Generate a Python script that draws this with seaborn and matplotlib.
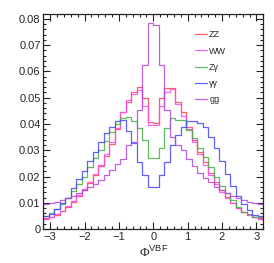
import numpy as np
import pandas as pd
import matplotlib
matplotlib.use('Agg')
import matplotlib.pyplot as plt
import seaborn as sns
from matplotlib.ticker import MultipleLocator

# 40 bins from -3.2 to 3.2, normalised distributions of Phi^VBF
binEdges = np.linspace(-3.2, 3.2, 41)
binCenters = 0.5 * (binEdges[:-1] + binEdges[1:])

zz = [0.0041, 0.0045, 0.0055, 0.0068, 0.0085, 0.0102, 0.0125, 0.0150, 0.0175, 0.0205,
      0.0240, 0.0280, 0.0325, 0.0380, 0.0445, 0.0485, 0.0523, 0.0542, 0.0500, 0.0409,
      0.0405, 0.0500, 0.0537, 0.0537, 0.0485, 0.0445, 0.0390, 0.0340, 0.0295, 0.0255,
      0.0215, 0.0180, 0.0150, 0.0123, 0.0100, 0.0082, 0.0066, 0.0055, 0.0047, 0.0042]
ww = [0.0040, 0.0046, 0.0056, 0.0070, 0.0088, 0.0106, 0.0128, 0.0152, 0.0178, 0.0210,
      0.0245, 0.0285, 0.0330, 0.0385, 0.0445, 0.0490, 0.0515, 0.0530, 0.0470, 0.0398,
      0.0395, 0.0470, 0.0520, 0.0535, 0.0475, 0.0430, 0.0380, 0.0330, 0.0285, 0.0245,
      0.0205, 0.0172, 0.0142, 0.0118, 0.0098, 0.0080, 0.0065, 0.0054, 0.0046, 0.0040]
zgamma = [0.0051, 0.0062, 0.0078, 0.0095, 0.0120, 0.0145, 0.0170, 0.0200, 0.0235, 0.0270,
          0.0300, 0.0335, 0.0370, 0.0400, 0.0422, 0.0428, 0.0410, 0.0385, 0.0340, 0.0269,
          0.0269, 0.0307, 0.0385, 0.0422, 0.0415, 0.0415, 0.0377, 0.0345, 0.0310, 0.0275,
          0.0235, 0.0200, 0.0164, 0.0136, 0.0110, 0.0085, 0.0066, 0.0057, 0.0047, 0.0045]
gammagamma = [0.0048, 0.0058, 0.0075, 0.0098, 0.0120, 0.0155, 0.0190, 0.0220, 0.0260, 0.0295,
              0.0330, 0.0365, 0.0390, 0.0410, 0.0415, 0.0375, 0.0326, 0.0256, 0.0205, 0.0161,
              0.0161, 0.0205, 0.0256, 0.0320, 0.0360, 0.0390, 0.0410, 0.0410, 0.0405, 0.0390,
              0.0350, 0.0310, 0.0260, 0.0210, 0.0165, 0.0125, 0.0095, 0.0072, 0.0055, 0.0048]
gg = [0.0095, 0.0098, 0.0103, 0.0110, 0.0118, 0.0127, 0.0137, 0.0148, 0.0160, 0.0172,
      0.0188, 0.0205, 0.0225, 0.0248, 0.0265, 0.0320, 0.0330, 0.0453, 0.0625, 0.0784,
      0.0777, 0.0625, 0.0453, 0.0350, 0.0320, 0.0300, 0.0265, 0.0240, 0.0215, 0.0195,
      0.0178, 0.0162, 0.0148, 0.0137, 0.0127, 0.0118, 0.0110, 0.0103, 0.0098, 0.0095]

sampleNames = ["ZZ", "WW", "Z\u03b3", "\u03b3\u03b3", "gg"]
sampleValues = [zz, ww, zgamma, gammagamma, gg]
sampleColors = ["#ff4545", "#ff45ee", "#45b045", "#4545ff", "#b445e0"]

sns.set_style("ticks")
plt.rcParams['font.family'] = ['Liberation Sans', 'DejaVu Sans']
plt.rcParams['mathtext.fontset'] = 'custom'
plt.rcParams['mathtext.rm'] = 'Liberation Serif'
plt.rcParams['mathtext.sf'] = 'Liberation Sans'

fig = plt.figure(figsize=(2.74, 2.63), dpi=100)
ax = fig.add_axes([0.158, 0.129, 0.803, 0.818])

for name, values, color in zip(sampleNames, sampleValues, sampleColors):
    df = pd.DataFrame({'phi': binCenters, 'w': values})
    sns.histplot(data=df, x='phi', weights='w', bins=40, binrange=(-3.2, 3.2),
                 element='step', fill=False, color=color, linewidth=0.9, alpha=0.85,
                 label=name, ax=ax)

ax.set_xlim(-3.2, 3.2)
ax.set_ylim(0, 0.0819)
ax.set_ylabel('')
ax.set_xlabel('$\\mathrm{\\Phi}^{\\mathsf{VBF}}$', fontsize=9.5, labelpad=2)

ax.xaxis.set_major_locator(MultipleLocator(1))
ax.xaxis.set_minor_locator(MultipleLocator(0.2))
ax.yaxis.set_minor_locator(MultipleLocator(0.002))
ax.set_yticks(np.arange(0, 0.081, 0.01))
ax.set_yticklabels(['0', '0.01', '0.02', '0.03', '0.04', '0.05', '0.06', '0.07', '0.08'])
ax.tick_params(which='both', direction='in', top=True, right=True, width=0.8,
               labelsize=8, pad=2, color='#222222')
ax.tick_params(which='major', length=5)
ax.tick_params(which='minor', length=2.5)
for spine in ax.spines.values():
    spine.set_linewidth(0.9)
    spine.set_color('#222222')

ax.legend(loc='upper left', bbox_to_anchor=(0.67, 0.945), frameon=False, fontsize=6.5,
          handlelength=1.3, handletextpad=0.25, labelspacing=0.8, borderpad=0)

plt.savefig('out.png', dpi=100)
plt.close()
